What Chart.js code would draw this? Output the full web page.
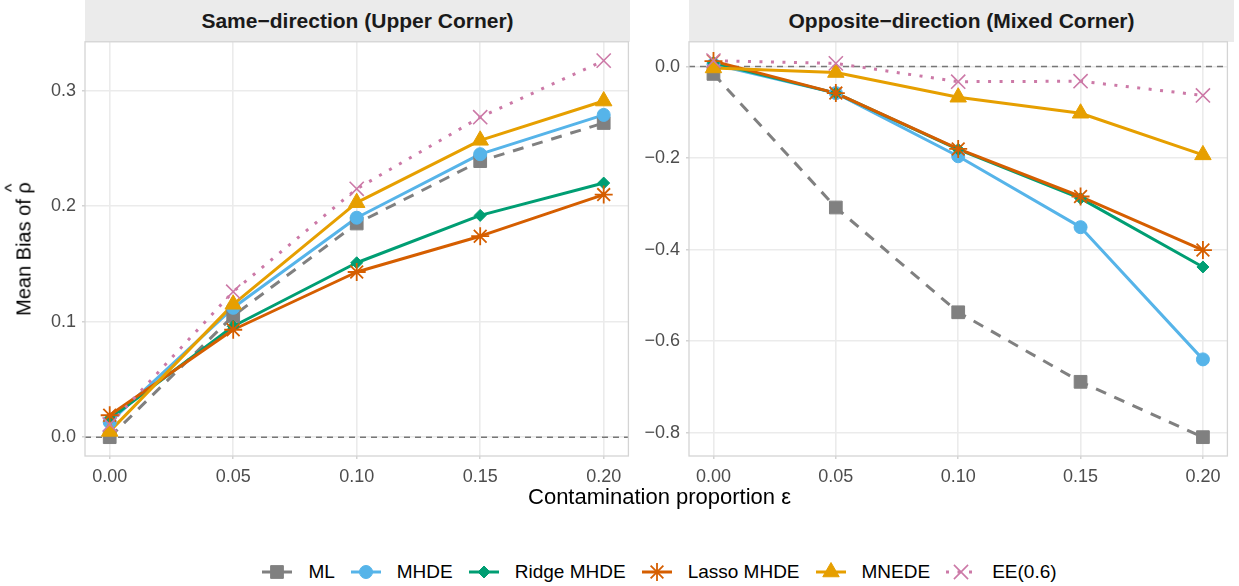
<!DOCTYPE html>
<html>
<head>
<meta charset="utf-8">
<script src="https://cdn.jsdelivr.net/npm/chart.js@4.4.1/dist/chart.umd.min.js"></script>
<style>
  body { margin: 0; background: #fff; font-family: "Liberation Sans", Arial, Helvetica, sans-serif; }
  #fig { position: relative; width: 1239px; height: 586px; overflow: hidden; }
  .strip { position: absolute; top: 0; height: 42px; background: #EBEBEB; color: #1A1A1A;
           font-weight: bold; font-size: 21px; display: flex; align-items: center; justify-content: center; }
  .cv { position: absolute; top: 42px; }
  #ytitle { position: absolute; left: 24px; top: 249px; transform: translate(-50%, -50%) rotate(-90deg);
            font-size: 20px; color: #000; white-space: nowrap; }
  .hat { position: relative; display: inline-block; }
  .hat span { position: absolute; left: 0; right: 0; top: -0.62em; text-align: center; font-size: 0.9em; }
  #xtitle { position: absolute; left: 85px; width: 1149px; top: 484px; text-align: center; font-size: 22px; color: #000; }
  #legend { position: absolute; left: 85px; width: 1149px; top: 560px; height: 24px; display: flex;
            justify-content: center; align-items: center; font-size: 19px; color: #000; }
  .item { display: flex; align-items: center; margin: 0 8px; }
  .item canvas { margin-right: 16px; }
</style>
</head>
<body>
<div id="fig">
  <div class="strip" style="left:85px;width:545px;">Same−direction (Upper Corner)</div>
  <div class="strip" style="left:689px;width:545px;">Opposite−direction (Mixed Corner)</div>
  <canvas id="leftChart" class="cv" style="left:0px;" width="640" height="460"></canvas>
  <canvas id="rightChart" class="cv" style="left:640px;" width="599" height="460"></canvas>
  <div id="ytitle">Mean Bias of <span class="hat">ρ<span>^</span></span></div>
  <div id="xtitle">Contamination proportion ε</div>
  <div id="legend"></div>
</div>
<script>
// data
const eps = [0, 0.05, 0.10, 0.15, 0.20];
const methods = ['ML', 'MHDE', 'Ridge MHDE', 'Lasso MHDE', 'MNEDE', 'EE(0.6)'];

// Same-direction (Upper Corner)
const sameML    = [0.000, 0.105, 0.185, 0.239, 0.272];
const sameMHDE  = [0.013, 0.112, 0.190, 0.245, 0.279];
const sameRidge = [0.016, 0.096, 0.151, 0.192, 0.220];
const sameLasso = [0.019, 0.093, 0.143, 0.174, 0.210];
const sameMNEDE = [0.005, 0.115, 0.203, 0.257, 0.291];
const sameEE    = [0.011, 0.126, 0.215, 0.277, 0.326];

// Opposite-direction (Mixed Corner)
const oppML    = [-0.016, -0.308, -0.537, -0.689, -0.810];
const oppMHDE  = [0.005, -0.058, -0.196, -0.351, -0.640];
const oppRidge = [0.008, -0.058, -0.181, -0.288, -0.438];
const oppLasso = [0.012, -0.058, -0.180, -0.284, -0.401];
const oppMNEDE = [-0.003, -0.013, -0.067, -0.102, -0.193];
const oppEE    = [0.013, 0.007, -0.033, -0.032, -0.063];

const sameTicks = [0, 0.1, 0.2, 0.3];
const oppTicks = [0, -0.2, -0.4, -0.6, -0.8];
const epsTicks = [0, 0.05, 0.10, 0.15, 0.20];

// look of each method
const styles = [
  { color: '#808080', dash: [11, 9], point: 'rect', radius: 9, bw: 1 },
  { color: '#56B4E9', dash: [], point: 'circle', radius: 6.5, bw: 1 },
  { color: '#009E73', dash: [], point: 'rectRot', radius: 6, bw: 1 },
  { color: '#D55E00', dash: [], point: 'star', radius: 9, bw: 1.8 },
  { color: '#E69F00', dash: [], point: 'triangle', radius: 9.5, bw: 1 },
  { color: '#CC79A7', dash: [3, 8.5], point: 'crossRot', radius: 10, bw: 1.6 }
];

const xMin = -0.01, xMax = 0.21;
const panelTop = 42, panelHeight = 414, xAxisHeight = 46;

function expandRange(arrays) {
  const all = [].concat(...arrays, [0]);
  const lo = Math.min(...all), hi = Math.max(...all);
  const pad = (hi - lo) * 0.05;
  return [lo - pad, hi + pad];
}

function fmt(v, d) {
  return v.toFixed(d).replace('-', '\u2212');
}

function buildDatasets(seriesList) {
  const ds = [];
  ds.push({
    data: [{ x: xMin, y: 0 }, { x: xMax, y: 0 }],
    borderColor: '#777777', borderWidth: 1.5, borderDash: [6, 5],
    pointRadius: 0, order: 40
  });
  seriesList.forEach((vals, i) => {
    const s = styles[i];
    const pts = eps.map((x, j) => ({ x: x, y: vals[j] }));
    ds.push({
      label: methods[i], data: pts, borderColor: s.color, borderWidth: 3,
      borderDash: s.dash, borderJoinStyle: 'round', pointRadius: 0, order: 30 - i
    });
    ds.push({
      label: methods[i], data: pts, showLine: false, pointStyle: s.point,
      pointRadius: s.radius, pointBackgroundColor: s.color, pointBorderColor: s.color,
      pointBorderWidth: s.bw, order: 10 - i
    });
  });
  return ds;
}

const panelBox = {
  id: 'panelBox',
  afterDraw(chart) {
    const { ctx, chartArea: a } = chart;
    ctx.save();
    ctx.strokeStyle = '#D4D4D4';
    ctx.lineWidth = 1.3;
    ctx.strokeRect(a.left, a.top, a.right - a.left, a.bottom - a.top);
    ctx.restore();
  }
};

function chartConfig(seriesList, yTicks, yAxisWidth, padRight) {
  const [yMin, yMax] = expandRange(seriesList);
  return {
    type: 'line',
    data: { datasets: buildDatasets(seriesList) },
    options: {
      responsive: false,
      maintainAspectRatio: false,
      animation: false,
      events: [],
      layout: { padding: { left: 0, right: padRight, top: 0, bottom: 0 } },
      plugins: { legend: { display: false }, tooltip: { enabled: false } },
      scales: {
        x: {
          type: 'linear', min: xMin, max: xMax,
          afterBuildTicks: (s) => { s.ticks = epsTicks.map(v => ({ value: v })); },
          afterFit: (s) => { s.height = xAxisHeight; },
          ticks: { callback: (v) => fmt(v, 2), color: '#4D4D4D', font: { size: 18, family: 'Liberation Sans' }, padding: 7, maxRotation: 0 },
          grid: { color: '#EBEBEB', lineWidth: 1.6, tickColor: '#C8C8C8', tickLength: 3, tickWidth: 1.2 },
          border: { display: false }
        },
        y: {
          type: 'linear', min: yMin, max: yMax,
          afterBuildTicks: (s) => { s.ticks = yTicks.map(v => ({ value: v })); },
          afterFit: (s) => { s.width = yAxisWidth; },
          ticks: { callback: (v) => fmt(v, 1), color: '#4D4D4D', font: { size: 18, family: 'Liberation Sans' }, padding: 6 },
          grid: { color: '#EBEBEB', lineWidth: 1.6, tickColor: '#C8C8C8', tickLength: 3, tickWidth: 1.2 },
          border: { display: false }
        }
      }
    },
    plugins: [panelBox]
  };
}

function makeChart(id, seriesList, yTicks, yAxisWidth, padRight) {
  const canvas = document.getElementById(id);
  const w = canvas.width;
  // first pass only to learn how much room the y axis keeps above the plot
  let chart = new Chart(canvas, chartConfig(seriesList, yTicks, yAxisWidth, padRight));
  const t = chart.chartArea.top;
  chart.destroy();
  canvas.width = w;
  canvas.height = Math.round(panelHeight + t + xAxisHeight);
  canvas.style.top = (panelTop - t) + 'px';
  chart = new Chart(canvas, chartConfig(seriesList, yTicks, yAxisWidth, padRight));
  return chart;
}

makeChart('leftChart', [sameML, sameMHDE, sameRidge, sameLasso, sameMNEDE, sameEE], sameTicks, 85, 10);
makeChart('rightChart', [oppML, oppMHDE, oppRidge, oppLasso, oppMNEDE, oppEE], oppTicks, 49, 5);

// shared legend below both panels
const legend = document.getElementById('legend');
methods.forEach((name, i) => {
  const s = styles[i];
  const item = document.createElement('div');
  item.className = 'item';
  const key = document.createElement('canvas');
  key.width = 30; key.height = 22;
  const ctx = key.getContext('2d');
  ctx.strokeStyle = s.color;
  ctx.fillStyle = s.color;
  ctx.lineWidth = 3;
  ctx.setLineDash(s.dash);
  ctx.beginPath();
  ctx.moveTo(0, 11);
  ctx.lineTo(30, 11);
  ctx.stroke();
  ctx.setLineDash([]);
  ctx.lineWidth = s.bw;
  if (Chart.helpers && Chart.helpers.drawPoint) {
    Chart.helpers.drawPoint(ctx, { pointStyle: s.point, radius: s.radius, borderWidth: s.bw, rotation: 0 }, 15, 11);
  }
  const label = document.createElement('span');
  label.textContent = name;
  item.appendChild(key);
  item.appendChild(label);
  legend.appendChild(item);
});
</script>
</body>
</html>
